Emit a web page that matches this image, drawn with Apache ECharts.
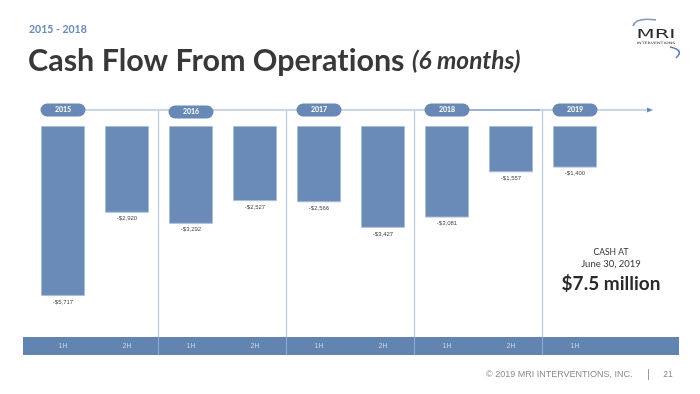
<!DOCTYPE html>
<html><head><meta charset="utf-8">
<script src="https://cdn.jsdelivr.net/npm/echarts@6/dist/echarts.min.js"></script>
<style>html,body{margin:0;padding:0;background:#fff}#c{width:700px;height:394px}</style>
</head><body><div id="c"></div>
<script>
const categories = ['2015 1H','2015 2H','2016 1H','2016 2H','2017 1H','2017 2H','2018 1H','2018 2H','2019 1H'];
const halfLabels = ['1H','2H','1H','2H','1H','2H','1H','2H','1H'];
const cashFlow = [-5717,-2920,-3292,-2527,-2566,-3427,-3081,-1557,-1400];
const years = ['2015','2016','2017','2018','2019'];
const yearStartIndex = [0,2,4,6,8];
const separatorIndex = [2,4,6,8];

const chart = echarts.init(document.getElementById('c'), null, {renderer:'canvas'});
const BAR = '#6a8bb7';
const LINE = '#b9c8dc';

chart.setOption({
  animation:false,
  backgroundColor:'#ffffff',
  grid:{left:31, width:576, top:126, height:211},
  xAxis:{type:'category', data:categories, z:10,
    axisLine:{show:false}, axisTick:{show:false}, splitLine:{show:false},
    axisLabel:{formatter:(v,i)=>halfLabels[i], color:'#d3dcea', fontSize:6.5, margin:6, fontFamily:'Liberation Sans'}},
  yAxis:{type:'value', min:-7100, max:0, show:false},
  series:[{type:'bar', data:cashFlow, barWidth:44,
    itemStyle:{color:BAR, borderColor:'#a9bdd9', borderWidth:1},
    label:{show:true, position:'bottom', distance:3, fontSize:6, color:'#4a4a4a', fontFamily:'Liberation Sans',
      formatter:p=>'-$'+Math.abs(p.value).toLocaleString('en-US')}}]
});

const px = i => chart.convertToPixel({xAxisIndex:0}, i);
const g = [];
// bottom band
g.push({type:'rect', z:1, shape:{x:23, y:337, width:656, height:18}, style:{fill:'#6284b0'}});
// timeline
g.push({type:'line', z:2, shape:{x1:41, y1:110, x2:650, y2:110}, style:{stroke:LINE, lineWidth:1.3}});
g.push({type:'line', z:2, shape:{x1:469, y1:110, x2:540, y2:110}, style:{stroke:'#8aa4c7', lineWidth:1.3}});
g.push({type:'polygon', z:3, shape:{points:[[647,107.5],[653,110],[647,112.5]]}, style:{fill:'#6a8ab6'}});
// separators
separatorIndex.forEach(i=>{
  const x = Math.round((px(i-1)+px(i))/2)-0.5;
  g.push({type:'line', z:2, shape:{x1:x, y1:111, x2:x, y2:337}, style:{stroke:LINE, lineWidth:1.2}});
  g.push({type:'line', z:2, shape:{x1:x, y1:337, x2:x, y2:355}, style:{stroke:'#8fa7c8', lineWidth:1.2}});
});
// year pills
years.forEach((yr,k)=>{
  const cx = px(yearStartIndex[k]);
  const dy = k===1 ? 2 : 0;
  g.push({type:'rect', z:4, shape:{x:cx-22.5, y:103.5+dy, width:45, height:13, r:6.5}, style:{fill:'#6889b5'}});
  g.push({type:'text', z:5, style:{x:cx, y:110+dy, text:yr, align:'center', verticalAlign:'middle',
    fill:'#ffffff', fontSize:7, fontWeight:'bold', fontFamily:'Lato'}});
});
// headings
g.push({type:'text', z:5, style:{x:29, y:30, text:'2015 - 2018', verticalAlign:'middle', fill:'#6a8bb8',
  fontSize:10.5, fontWeight:'bold', fontFamily:'Lato'}});
g.push({type:'text', z:5, style:{x:28, y:61, verticalAlign:'middle',
  text:'{a|Cash Flow From Operat}{a|ions }{b|(6 months)}',
  rich:{a:{fontSize:30.5, fontWeight:'bold', fill:'#383838', fontFamily:'Lato'},
        b:{fontSize:24.5, fontWeight:'bold', fontStyle:'italic', fill:'#383838', fontFamily:'Lato'}}}});
// cash callout
g.push({type:'text', z:5, style:{x:611, y:252, text:'CASH AT', align:'center', verticalAlign:'middle',
  fill:'#333', fontSize:8.5, fontFamily:'Lato'}});
g.push({type:'text', z:5, style:{x:611, y:263.5, text:'June 30, 2019', align:'center', verticalAlign:'middle',
  fill:'#333', fontSize:9.5, fontFamily:'Lato'}});
g.push({type:'text', z:5, style:{x:611, y:283.5, text:'$7.5 million', align:'center', verticalAlign:'middle',
  fill:'#2a2a2a', fontSize:19, fontWeight:'bold', fontFamily:'Lato'}});
// footer
g.push({type:'text', z:5, style:{x:486, y:375, text:'\u00A9 2019 MRI INTERVENTIONS, INC.', verticalAlign:'middle',
  fill:'#8c8c8c', fontSize:9, fontFamily:'Liberation Sans'}});
g.push({type:'line', z:5, shape:{x1:648.5, y1:369, x2:648.5, y2:380}, style:{stroke:'#9a9a9a', lineWidth:1}});
g.push({type:'text', z:5, style:{x:668, y:375, text:'21', align:'center', verticalAlign:'middle',
  fill:'#8c8c8c', fontSize:8.5, fontFamily:'Liberation Sans'}});
// logo
g.push({type:'text', z:5, x:656, y:35, scaleX:1.75, style:{x:0, y:0, text:'MRI', align:'center', verticalAlign:'middle',
  fill:'#2b2b2b', fontSize:12, fontFamily:'DejaVu Sans'}});
g.push({type:'text', z:5, x:656, y:43, scaleX:1.6, style:{x:0, y:0, text:'INTERVENTIONS', align:'center', verticalAlign:'middle',
  fill:'#333', fontSize:3, fontFamily:'DejaVu Sans'}});
g.push({type:'bezierCurve', z:5, shape:{x1:633, y1:26, cpx1:636, cpy1:17, x2:656, y2:20}, style:{stroke:'#7d98c2', lineWidth:1.6, fill:null}});
g.push({type:'bezierCurve', z:5, shape:{x1:670, y1:47, cpx1:685, cpy1:50, x2:676, y2:58}, style:{stroke:'#5a7bb0', lineWidth:1.6, fill:null}});

chart.setOption({graphic:{elements:g}});
</script></body></html>
